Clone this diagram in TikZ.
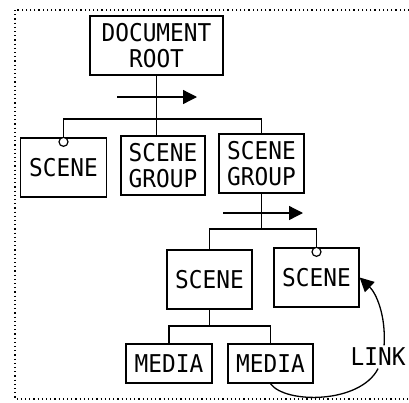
\documentclass[tikz,border=0pt]{standalone}
\usepackage{fontspec}
\setmainfont{DejaVu Sans Mono}[FakeStretch=0.93]
\usetikzlibrary{arrows.meta}

\begin{document}
\begin{tikzpicture} [x = 1pt, y = -1pt, line width = 1.3pt,
  box/.style = {draw, black, inner sep = 0pt, align = center, font = \fontsize{24.5}{26.5}\selectfont},
  flow/.style = {black, -{Triangle[length = 14pt, width = 14pt]}},
  plug/.style = {draw, black, fill = white, line width = 1.2pt}]
\useasboundingbox (0, 0) rectangle (409, 402);
\draw[black, line width = 1.2pt, dash pattern = on 1.2pt off 3pt] (15, 10) rectangle (430, 399);
\node[box, minimum width = 133, minimum height = 59] (root) at (156.5, 45.5) {DOCUMENT\\ROOT};
\node[box, minimum width = 86, minimum height = 59] (scene) at (63.5, 167.5) {SCENE};
\node[box, minimum width = 84, minimum height = 59] (groupa) at (163, 165.5) {SCENE\\GROUP};
\node[box, minimum width = 85, minimum height = 59] (groupb) at (261.5, 163.5) {SCENE\\GROUP};
\node[box, minimum width = 85, minimum height = 59] (scenea) at (209.5, 279.5) {SCENE};
\node[box, minimum width = 85, minimum height = 59] (sceneb) at (316.5, 277.5) {SCENE};
\node[box, minimum width = 86, minimum height = 39] (mediaa) at (169, 363.5) {MEDIA};
\node[box, minimum width = 85, minimum height = 39] (mediab) at (270.5, 363.5) {MEDIA};
\node[black, inner sep = 2pt, anchor = west, font = \fontsize{24.5}{26.5}\selectfont] (link) at (348, 357) {LINK};
\coordinate (bara) at (0, 119);
\coordinate (barb) at (0, 229);
\coordinate (barc) at (0, 326);
\coordinate (flowa) at (117, 97);
\coordinate (flowb) at (223, 213);
% first level
\draw[black] (root.south) -- (root.south |- groupa.north);
\draw[black] ([yshift = -9]scene.north) -- (scene.north |- bara) -- (groupb.north |- bara) -- (groupb.north);
\draw[plug] ([yshift = -4.5]scene.north) circle (4.5pt);
\draw[flow] (flowa) -- ++(80, 0);
% second level
\draw[black] (groupb.south) -- (groupb.south |- barb);
\draw[black] (scenea.north) -- (scenea.north |- barb) -- (sceneb.north |- barb) -- ([yshift = -9]sceneb.north);
\draw[plug] ([yshift = -4.5]sceneb.north) circle (4.5pt);
\draw[flow] (flowb) -- ++(80, 0);
% media
\draw[black] (scenea.south) -- (scenea.south |- barc);
\draw[black] (mediaa.north) -- (mediaa.north |- barc) -- (mediab.north |- barc) -- (mediab.north);
% link
\draw[black] (mediab.south) .. controls (285, 404) and (360, 404) .. (link.south);
\draw[flow] ([xshift = 6]link.north) .. controls (386, 315) and (376, 293) .. (sceneb.east);
\end{tikzpicture}
\end{document}
